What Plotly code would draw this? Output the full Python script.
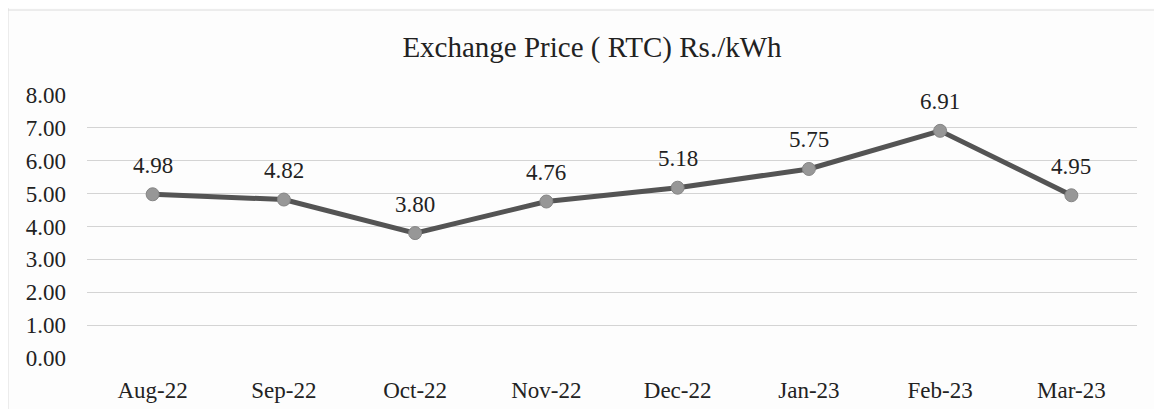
import plotly.graph_objects as go

months = ["Aug-22", "Sep-22", "Oct-22", "Nov-22", "Dec-22", "Jan-23", "Feb-23", "Mar-23"]
prices = [4.98, 4.82, 3.80, 4.76, 5.18, 5.75, 6.91, 4.95]
y_ticks = [0, 1, 2, 3, 4, 5, 6, 7, 8]
title_text = "Exchange Price ( RTC) Rs./kWh"

FONT = "Liberation Serif"
W, H = 1162, 409
L, R, T, B = 79, 33, 87, 59
PW, PH = W - L - R, H - T - B

fig = go.Figure()
fig.add_trace(go.Scatter(
    x=months, y=prices, mode="lines+markers",
    line=dict(color="#545454", width=5),
    marker=dict(color="#979797", size=13, line=dict(color="#858585", width=1)),
    showlegend=False, hoverinfo="x+y",
))

for m, p in zip(months, prices):
    fig.add_annotation(x=m, y=p, text=f"{p:.2f}", showarrow=False,
                       yshift=29, font=dict(family=FONT, size=23, color="#222222"))

fig.update_layout(
    width=W, height=H,
    margin=dict(l=L, r=R, t=T, b=B),
    paper_bgcolor="#fdfdfd", plot_bgcolor="#fdfdfd",
    font=dict(family=FONT, size=23, color="#222222"),
    title=dict(text=title_text, x=584 / W, xanchor="center", xref="container",
               y=1 - 39 / H, yanchor="middle", yref="container",
               font=dict(family=FONT, size=29, color="#222222")),
)
fig.update_xaxes(range=[-0.5, 7.5], showgrid=False, zeroline=False, showline=False,
                 ticks="", ticklabelstandoff=16,
                 tickfont=dict(family=FONT, size=23, color="#222222"))
fig.update_yaxes(range=[0, 8], tickvals=y_ticks,
                 ticktext=[f"{v:.2f}" for v in y_ticks],
                 showgrid=True, gridcolor="#d4d4d4", gridwidth=1,
                 zeroline=False, showline=False, ticks="", ticklabelstandoff=20,
                 tickfont=dict(family=FONT, size=23, color="#222222"))

# faint scanned table borders
fig.add_shape(type="line", xref="paper", yref="paper",
              x0=-(L - 0) / PW, x1=-(L - 0) / PW, y0=-B / PH, y1=1 + T / PH,
              line=dict(color="#dcdcdc", width=1))
fig.add_shape(type="line", xref="paper", yref="paper",
              x0=-L / PW, x1=1 + R / PW, y0=1 + (T - 2) / PH, y1=1 + (T - 2) / PH,
              line=dict(color="#dcdcdc", width=1))

fig.write_html("out.html")
